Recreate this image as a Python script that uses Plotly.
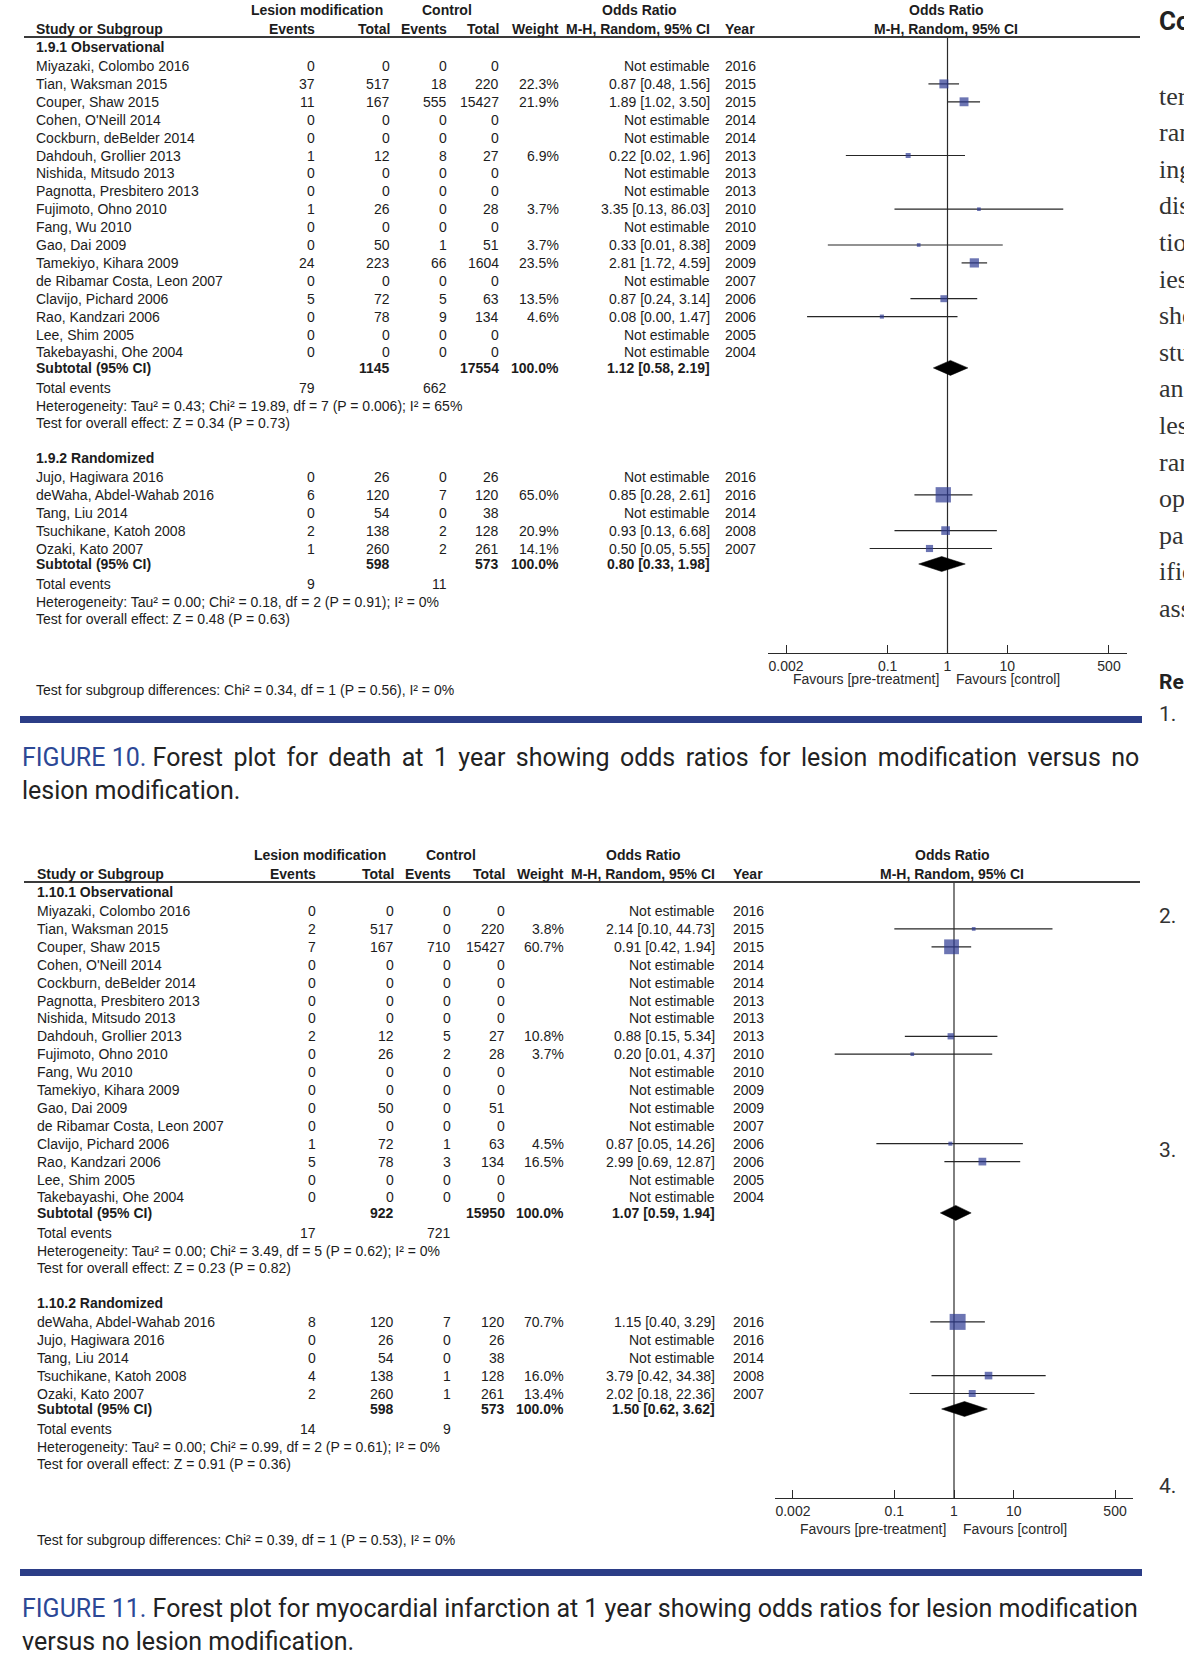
import plotly.graph_objects as go

W, H = 1184, 1670

# ---------------- DATA : Figure 10 (death at 1 year) ----------------
death_obs_study = ["Miyazaki, Colombo 2016", "Tian, Waksman 2015", "Couper, Shaw 2015", "Cohen, O'Neill 2014",
                   "Cockburn, deBelder 2014", "Dahdouh, Grollier 2013", "Nishida, Mitsudo 2013",
                   "Pagnotta, Presbitero 2013", "Fujimoto, Ohno 2010", "Fang, Wu 2010", "Gao, Dai 2009",
                   "Tamekiyo, Kihara 2009", "de Ribamar Costa, Leon 2007", "Clavijo, Pichard 2006",
                   "Rao, Kandzari 2006", "Lee, Shim 2005", "Takebayashi, Ohe 2004"]
death_obs_ev_lm = [0, 37, 11, 0, 0, 1, 0, 0, 1, 0, 0, 24, 0, 5, 0, 0, 0]
death_obs_tot_lm = [0, 517, 167, 0, 0, 12, 0, 0, 26, 0, 50, 223, 0, 72, 78, 0, 0]
death_obs_ev_ctl = [0, 18, 555, 0, 0, 8, 0, 0, 0, 0, 1, 66, 0, 5, 9, 0, 0]
death_obs_tot_ctl = [0, 220, 15427, 0, 0, 27, 0, 0, 28, 0, 51, 1604, 0, 63, 134, 0, 0]
death_obs_weight = [None, 22.3, 21.9, None, None, 6.9, None, None, 3.7, None, 3.7, 23.5, None, 13.5, 4.6, None, None]
death_obs_or = [None, 0.87, 1.89, None, None, 0.22, None, None, 3.35, None, 0.33, 2.81, None, 0.87, 0.08, None, None]
death_obs_lo = [None, 0.48, 1.02, None, None, 0.02, None, None, 0.13, None, 0.01, 1.72, None, 0.24, 0.0045, None, None]
death_obs_hi = [None, 1.56, 3.50, None, None, 1.96, None, None, 86.03, None, 8.38, 4.59, None, 3.14, 1.47, None, None]
death_obs_year = [2016, 2015, 2015, 2014, 2014, 2013, 2013, 2013, 2010, 2010, 2009, 2009, 2007, 2006, 2006, 2005, 2004]
death_obs_sub_totals = [1145, 17554]
death_obs_sub_ci = [1.12, 0.58, 2.19]
death_obs_events = [79, 662]
death_obs_het = "Heterogeneity: Tau² = 0.43; Chi² = 19.89, df = 7 (P = 0.006); I² = 65%"
death_obs_eff = "Test for overall effect: Z = 0.34 (P = 0.73)"

death_rct_study = ["Jujo, Hagiwara 2016", "deWaha, Abdel-Wahab 2016", "Tang, Liu 2014",
                   "Tsuchikane, Katoh 2008", "Ozaki, Kato 2007"]
death_rct_ev_lm = [0, 6, 0, 2, 1]
death_rct_tot_lm = [26, 120, 54, 138, 260]
death_rct_ev_ctl = [0, 7, 0, 2, 2]
death_rct_tot_ctl = [26, 120, 38, 128, 261]
death_rct_weight = [None, 65.0, None, 20.9, 14.1]
death_rct_or = [None, 0.85, None, 0.93, 0.50]
death_rct_lo = [None, 0.28, None, 0.13, 0.05]
death_rct_hi = [None, 2.61, None, 6.68, 5.55]
death_rct_year = [2016, 2016, 2014, 2008, 2007]
death_rct_sub_totals = [598, 573]
death_rct_sub_ci = [0.80, 0.33, 1.98]
death_rct_events = [9, 11]
death_rct_het = "Heterogeneity: Tau² = 0.00; Chi² = 0.18, df = 2 (P = 0.91); I² = 0%"
death_rct_eff = "Test for overall effect: Z = 0.48 (P = 0.63)"
death_subgroup_test = "Test for subgroup differences: Chi² = 0.34, df = 1 (P = 0.56), I² = 0%"

# ---------------- DATA : Figure 11 (MI at 1 year) ----------------
mi_obs_study = ["Miyazaki, Colombo 2016", "Tian, Waksman 2015", "Couper, Shaw 2015", "Cohen, O'Neill 2014",
                "Cockburn, deBelder 2014", "Pagnotta, Presbitero 2013", "Nishida, Mitsudo 2013",
                "Dahdouh, Grollier 2013", "Fujimoto, Ohno 2010", "Fang, Wu 2010", "Tamekiyo, Kihara 2009",
                "Gao, Dai 2009", "de Ribamar Costa, Leon 2007", "Clavijo, Pichard 2006",
                "Rao, Kandzari 2006", "Lee, Shim 2005", "Takebayashi, Ohe 2004"]
mi_obs_ev_lm = [0, 2, 7, 0, 0, 0, 0, 2, 0, 0, 0, 0, 0, 1, 5, 0, 0]
mi_obs_tot_lm = [0, 517, 167, 0, 0, 0, 0, 12, 26, 0, 0, 50, 0, 72, 78, 0, 0]
mi_obs_ev_ctl = [0, 0, 710, 0, 0, 0, 0, 5, 2, 0, 0, 0, 0, 1, 3, 0, 0]
mi_obs_tot_ctl = [0, 220, 15427, 0, 0, 0, 0, 27, 28, 0, 0, 51, 0, 63, 134, 0, 0]
mi_obs_weight = [None, 3.8, 60.7, None, None, None, None, 10.8, 3.7, None, None, None, None, 4.5, 16.5, None, None]
mi_obs_or = [None, 2.14, 0.91, None, None, None, None, 0.88, 0.20, None, None, None, None, 0.87, 2.99, None, None]
mi_obs_lo = [None, 0.10, 0.42, None, None, None, None, 0.15, 0.01, None, None, None, None, 0.05, 0.69, None, None]
mi_obs_hi = [None, 44.73, 1.94, None, None, None, None, 5.34, 4.37, None, None, None, None, 14.26, 12.87, None, None]
mi_obs_year = [2016, 2015, 2015, 2014, 2014, 2013, 2013, 2013, 2010, 2010, 2009, 2009, 2007, 2006, 2006, 2005, 2004]
mi_obs_sub_totals = [922, 15950]
mi_obs_sub_ci = [1.07, 0.59, 1.94]
mi_obs_events = [17, 721]
mi_obs_het = "Heterogeneity: Tau² = 0.00; Chi² = 3.49, df = 5 (P = 0.62); I² = 0%"
mi_obs_eff = "Test for overall effect: Z = 0.23 (P = 0.82)"

mi_rct_study = ["deWaha, Abdel-Wahab 2016", "Jujo, Hagiwara 2016", "Tang, Liu 2014",
                "Tsuchikane, Katoh 2008", "Ozaki, Kato 2007"]
mi_rct_ev_lm = [8, 0, 0, 4, 2]
mi_rct_tot_lm = [120, 26, 54, 138, 260]
mi_rct_ev_ctl = [7, 0, 0, 1, 1]
mi_rct_tot_ctl = [120, 26, 38, 128, 261]
mi_rct_weight = [70.7, None, None, 16.0, 13.4]
mi_rct_or = [1.15, None, None, 3.79, 2.02]
mi_rct_lo = [0.40, None, None, 0.42, 0.18]
mi_rct_hi = [3.29, None, None, 34.38, 22.36]
mi_rct_year = [2016, 2016, 2014, 2008, 2007]
mi_rct_sub_totals = [598, 573]
mi_rct_sub_ci = [1.50, 0.62, 3.62]
mi_rct_events = [14, 9]
mi_rct_het = "Heterogeneity: Tau² = 0.00; Chi² = 0.99, df = 2 (P = 0.61); I² = 0%"
mi_rct_eff = "Test for overall effect: Z = 0.91 (P = 0.36)"
mi_subgroup_test = "Test for subgroup differences: Chi² = 0.39, df = 1 (P = 0.53), I² = 0%"

tick_vals = [0.002, 0.1, 1, 10, 500]
tick_text = ["0.002", "0.1", "1", "10", "500"]

caption10 = ["Forest plot for death at 1 year showing odds ratios for lesion modification versus no",
             "lesion modification."]
caption11 = ["Forest plot for myocardial infarction at 1 year showing odds ratios for lesion modification",
             "versus no lesion modification."]

side_text = ["ter", "ran", "ing", "dis", "tio", "ies", "she", "stu", "an", "les", "ran", "op", "pa", "ific", "ass"]

# ---------------- STYLE ----------------
FONT = "Liberation Sans, Arial, Helvetica, sans-serif"
CAPFONT = "Roboto, sans-serif"
TXT = "#1c1c1c"
FS = 14
SQ = "#2e3b93"
BAR = "#2b3d87"
CAPBLUE = "#2c4896"

annotations = []
shapes = []
fig = go.Figure()


def txt(x, y, s, anchor="left", bold=False, size=FS, color=TXT, family=FONT):
    if bold:
        s = "<b>" + s + "</b>"
    annotations.append(dict(x=x, y=y, xref="x3", yref="y", text=s, xanchor=anchor, yanchor="middle",
                            showarrow=False, font=dict(family=family, size=size, color=color)))


def group(study, ev_lm, tot_lm, ev_ctl, tot_ctl, wt, orr, lo, hi, yr, sub_tot, sub_ci, events, het, eff, title):
    return dict(study=study, ev_lm=ev_lm, tot_lm=tot_lm, ev_ctl=ev_ctl, tot_ctl=tot_ctl, wt=wt, orr=orr,
                lo=lo, hi=hi, yr=yr, sub_tot=sub_tot, sub_ci=sub_ci, events=events, het=het, eff=eff,
                title=title)


def ci_label(o, l, h):
    return f"{o:.2f} [{l:.2f}, {h:.2f}]"


def panel(P, groups, xa):
    y0 = P["y0"]
    c = P["cols"]
    txt(c["hdr_lm"], y0 + 10, "Lesion modification", "center", True)
    txt(c["hdr_ctl"], y0 + 10, "Control", "center", True)
    txt(c["hdr_or"], y0 + 10, "Odds Ratio", "center", True)
    txt(c["forest"], y0 + 10, "Odds Ratio", "center", True)
    yh = y0 + 29
    txt(c["label"], yh, "Study or Subgroup", "left", True)
    txt(c["ev_lm"], yh, "Events", "right", True)
    txt(c["tot_lm"], yh, "Total", "right", True)
    txt(c["ev_ctl"], yh, "Events", "right", True)
    txt(c["tot_ctl"], yh, "Total", "right", True)
    txt(c["wt"], yh, "Weight", "right", True)
    txt(c["ci"], yh, "M-H, Random, 95% CI", "right", True)
    txt(c["year"], yh, "Year", "left", True)
    txt(c["forest"], yh, "M-H, Random, 95% CI", "center", True)
    shapes.append(dict(type="line", xref="x3", yref="y", x0=c["line_l"], x1=c["line_r"],
                       y0=y0 + 37, y1=y0 + 37, line=dict(color="#3a3a3a", width=2)))
    # null line
    fig.add_trace(go.Scatter(x=[1, 1], y=[y0 + 37, P["axis_y"]], xaxis=xa, yaxis="y", mode="lines",
                             line=dict(color="#2a2a2a", width=1.2), hoverinfo="skip", showlegend=False))
    y = y0 + 47
    for gi, g in enumerate(groups):
        if gi > 0:
            y += 35
        txt(c["label"], y, g["title"], "left", True)
        y += 19
        ys = []
        for i in range(len(g["study"])):
            ys.append(y)
            txt(c["label"], y, g["study"][i])
            txt(c["ev_lm"], y, str(g["ev_lm"][i]), "right")
            txt(c["tot_lm"], y, str(g["tot_lm"][i]), "right")
            txt(c["ev_ctl"], y, str(g["ev_ctl"][i]), "right")
            txt(c["tot_ctl"], y, str(g["tot_ctl"][i]), "right")
            if g["wt"][i] is not None:
                txt(c["wt"], y, f"{g['wt'][i]:.1f}%", "right")
                txt(c["ci"], y, ci_label(g["orr"][i], g["lo"][i], g["hi"][i]), "right")
            else:
                txt(c["ci"], y, "Not estimable", "right")
            txt(c["year"], y, str(g["yr"][i]), "left")
            y += 17.9
        # CI whiskers
        lx, ly = [], []
        sx, sy, ss = [], [], []
        for i in range(len(g["study"])):
            if g["orr"][i] is None:
                continue
            lx += [g["lo"][i], g["hi"][i], None]
            ly += [ys[i], ys[i], None]
            sx.append(g["orr"][i])
            sy.append(ys[i])
            ss.append(1.9 * g["wt"][i] ** 0.5)
        fig.add_trace(go.Scatter(x=lx, y=ly, xaxis=xa, yaxis="y", mode="lines",
                                 line=dict(color="#262626", width=1.2), hoverinfo="skip", showlegend=False))
        fig.add_trace(go.Scatter(x=sx, y=sy, xaxis=xa, yaxis="y", mode="markers",
                                 marker=dict(symbol="square", size=ss, color=SQ, line=dict(width=0)),
                                 hoverinfo="skip", showlegend=False))
        ysub = ys[-1] + 15.5
        txt(c["label"], ysub, "Subtotal (95% CI)", "left", True)
        txt(c["tot_lm"], ysub, str(g["sub_tot"][0]), "right", True)
        txt(c["tot_ctl"], ysub, str(g["sub_tot"][1]), "right", True)
        txt(c["wt"], ysub, "100.0%", "right", True)
        o, l, h = g["sub_ci"]
        txt(c["ci"], ysub, ci_label(o, l, h), "right", True)
        fig.add_trace(go.Scatter(x=[l, o, h, o, l], y=[ysub, ysub - 7.5, ysub, ysub + 7.5, ysub],
                                 xaxis=xa, yaxis="y", mode="lines", fill="toself", fillcolor="#000000",
                                 line=dict(color="#000000", width=0.5), hoverinfo="skip", showlegend=False))
        yev = ysub + 20
        txt(c["label"], yev, "Total events")
        txt(c["ev_lm"], yev, str(g["events"][0]), "right")
        txt(c["ev_ctl"], yev, str(g["events"][1]), "right")
        yhet = yev + 18
        txt(c["label"], yhet, g["het"])
        yeff = yhet + 17
        txt(c["label"], yeff, g["eff"])
        y = yeff
    # favours labels & subgroup test
    txt(P["fav_split"] - 6, P["fav_y"], "Favours [pre-treatment]", "right", size=14, color="#2a2a2a")
    txt(P["fav_split"] + 7, P["fav_y"], "Favours [control]", "left", size=14, color="#2a2a2a")
    txt(c["label"], P["subtest_y"], P["subtest"])
    shapes.append(dict(type="rect", xref="x3", yref="y", x0=20, x1=1142, y0=P["bar_y"], y1=P["bar_y"] + 7,
                       fillcolor=BAR, line=dict(width=0)))
    cap = P["caption"]
    line1 = cap[0]
    if P["justify"]:
        line1 = line1.replace(" ", " \u2006")
    annotations.append(dict(x=20, y=P["cap_y"], xref="x3", yref="y", xanchor="left", yanchor="middle",
                            showarrow=False,
                            text=f"<span style='color:{CAPBLUE}'>{P['fig_label']}</span> {line1}",
                            font=dict(family=CAPFONT, size=25, color="#222222")))
    annotations.append(dict(x=20, y=P["cap_y"] + 33, xref="x3", yref="y", xanchor="left", yanchor="middle",
                            showarrow=False, text=cap[1],
                            font=dict(family=CAPFONT, size=25, color="#222222")))


cols10 = dict(label=34, ev_lm=317, tot_lm=392, ev_ctl=449, tot_ctl=501, wt=561, ci=712, year=723,
              hdr_lm=317, hdr_ctl=447, hdr_or=639, forest=946, line_l=24, line_r=1140)
cols11 = dict(label=35, ev_lm=318, tot_lm=396, ev_ctl=453, tot_ctl=507, wt=566, ci=717, year=731,
              hdr_lm=320, hdr_ctl=451, hdr_or=643, forest=952, line_l=24, line_r=1140)

P10 = dict(y0=0, cols=cols10, axis_y=653, fav_y=679, fav_split=947, subtest_y=690, subtest=death_subgroup_test,
           bar_y=716, cap_y=757, caption=caption10, fig_label="FIGURE 10.", justify=True)
P11 = dict(y0=845, cols=cols11, axis_y=1498, fav_y=1529, fav_split=954, subtest_y=1540, subtest=mi_subgroup_test,
           bar_y=1569, cap_y=1608, caption=caption11, fig_label="FIGURE 11.", justify=False)

g10 = [group(death_obs_study, death_obs_ev_lm, death_obs_tot_lm, death_obs_ev_ctl, death_obs_tot_ctl,
             death_obs_weight, death_obs_or, death_obs_lo, death_obs_hi, death_obs_year, death_obs_sub_totals,
             death_obs_sub_ci, death_obs_events, death_obs_het, death_obs_eff, "1.9.1 Observational"),
       group(death_rct_study, death_rct_ev_lm, death_rct_tot_lm, death_rct_ev_ctl, death_rct_tot_ctl,
             death_rct_weight, death_rct_or, death_rct_lo, death_rct_hi, death_rct_year, death_rct_sub_totals,
             death_rct_sub_ci, death_rct_events, death_rct_het, death_rct_eff, "1.9.2 Randomized")]
g11 = [group(mi_obs_study, mi_obs_ev_lm, mi_obs_tot_lm, mi_obs_ev_ctl, mi_obs_tot_ctl,
             mi_obs_weight, mi_obs_or, mi_obs_lo, mi_obs_hi, mi_obs_year, mi_obs_sub_totals,
             mi_obs_sub_ci, mi_obs_events, mi_obs_het, mi_obs_eff, "1.10.1 Observational"),
       group(mi_rct_study, mi_rct_ev_lm, mi_rct_tot_lm, mi_rct_ev_ctl, mi_rct_tot_ctl,
             mi_rct_weight, mi_rct_or, mi_rct_lo, mi_rct_hi, mi_rct_year, mi_rct_sub_totals,
             mi_rct_sub_ci, mi_rct_events, mi_rct_het, mi_rct_eff, "1.10.2 Randomized")]

# anchor trace for the pixel-space overlay axes
fig.add_trace(go.Scatter(x=[0], y=[0], xaxis="x3", yaxis="y", mode="markers", marker=dict(opacity=0),
                         hoverinfo="skip", showlegend=False))

panel(P10, g10, "x")
panel(P11, g11, "x2")

# clipped text of the neighbouring page column (cut at the page edge, as in the reference)
annotations.append(dict(x=1157, y=21, xref="x3", yref="y", xanchor="left", yanchor="middle", showarrow=False,
                        text="<b>Co</b>", font=dict(family=CAPFONT, size=26, color="#222222")))
for i, s in enumerate(side_text):
    annotations.append(dict(x=1157, y=96 + i * 36.6, xref="x3", yref="y", xanchor="left", yanchor="middle",
                            showarrow=False, text=s,
                            font=dict(family="Liberation Serif, Times New Roman, serif", size=26, color="#333333")))
annotations.append(dict(x=1157, y=682, xref="x3", yref="y", xanchor="left", yanchor="middle", showarrow=False,
                        text="<b>Re</b>", font=dict(family=CAPFONT, size=21, color="#222222")))
for yy, s in [(714, "1."), (916, "2."), (1150, "3."), (1486, "4.")]:
    annotations.append(dict(x=1157, y=yy, xref="x3", yref="y", xanchor="left", yanchor="middle",
                            showarrow=False, text=s,
                            font=dict(family=CAPFONT, size=21, color="#333333")))


def log_axis(x0, x1, axis_y):
    return dict(type="log", range=[-3, 3], domain=[x0 / W, x1 / W], anchor="free", position=1 - axis_y / H,
                showline=True, linecolor="#2a2a2a", linewidth=1.3, ticks="inside", ticklen=8,
                tickcolor="#2a2a2a", tickwidth=1.3, tickvals=tick_vals, ticktext=tick_text,
                tickfont=dict(family=FONT, size=14, color="#2a2a2a"), showgrid=False, zeroline=False,
                fixedrange=True)


fig.update_layout(
    width=W, height=H, margin=dict(l=0, r=0, t=0, b=0),
    paper_bgcolor="white", plot_bgcolor="rgba(0,0,0,0)", showlegend=False,
    xaxis=log_axis(768, 1127, 653),
    xaxis2=log_axis(775, 1133, 1498),
    xaxis3=dict(domain=[0, 1], range=[0, W], visible=False, anchor="y", fixedrange=True),
    yaxis=dict(domain=[0, 1], range=[H, 0], visible=False, anchor="x3", fixedrange=True),
    annotations=annotations, shapes=shapes,
)

fig.write_html("out.html", config={"displayModeBar": False},
               post_script="document.body.style.margin='0';document.body.style.overflow='hidden';")
